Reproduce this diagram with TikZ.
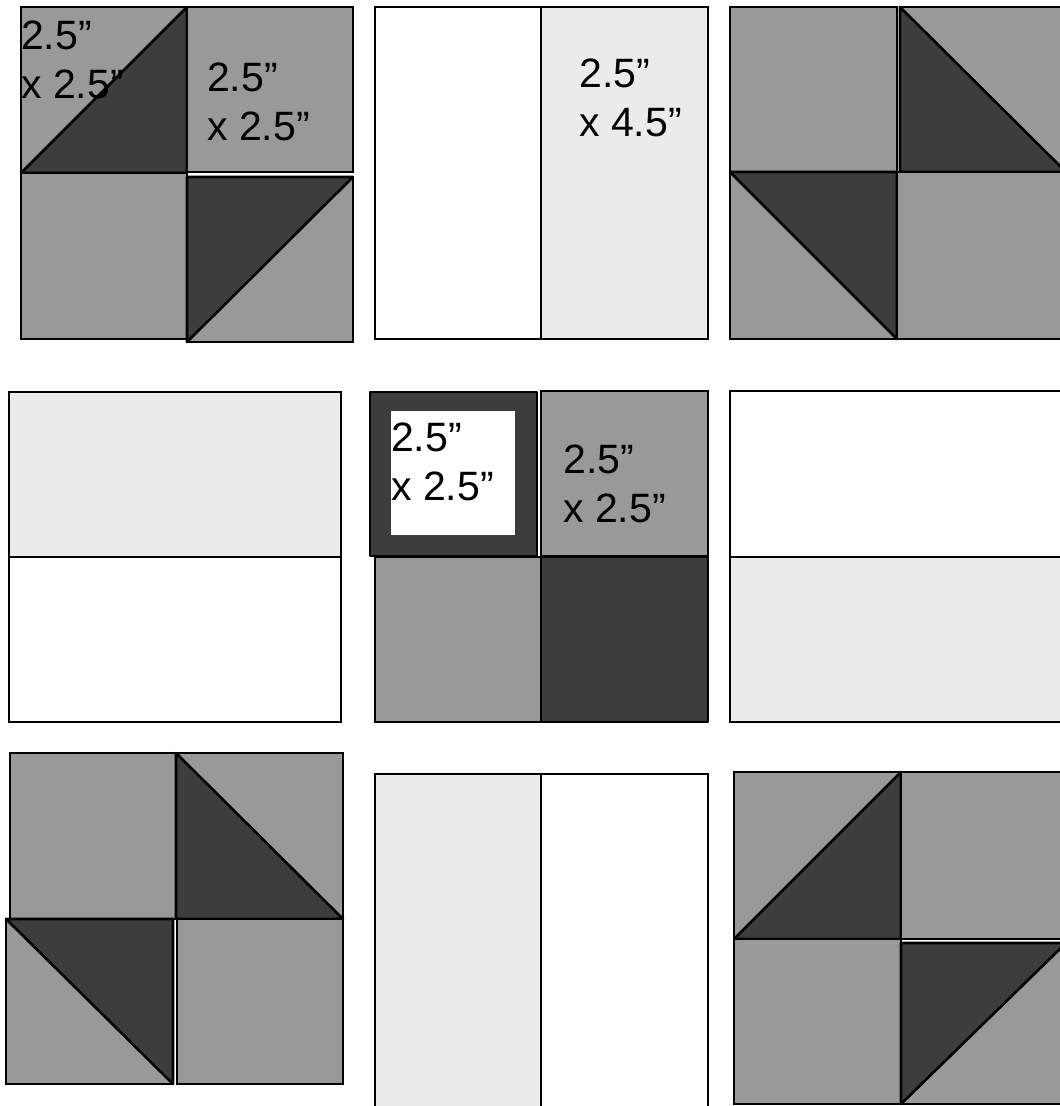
\documentclass[tikz,border=0pt]{standalone}
\usepackage{fontspec}
\setmainfont{Liberation Sans}
\usepackage{xcolor}
\usepackage{tikz}

\definecolor{patchgray}{HTML}{999999}
\definecolor{patchdark}{HTML}{3D3D3D}
\definecolor{patchlight}{HTML}{EBEBEB}

\begin{document}
\begin{tikzpicture}[
  x=1pt, y=-1pt,
  gry/.style={draw=black, line width=2.6pt, fill=patchgray},
  drk/.style={draw=black, line width=2.6pt, fill=patchdark, line join=round},
  lgt/.style={draw=black, line width=2.6pt, fill=patchlight},
  wht/.style={draw=black, line width=2.6pt, fill=white},
  size/.style={anchor=north west, inner sep=0pt, align=left, font=\fontsize{41}{49}\selectfont}
]
  \useasboundingbox (0,0) rectangle (1060,1106);
  \clip (0,0) rectangle (1060,1106);

  % top row, left block
  \filldraw[gry] (21,7) rectangle (187,173);
  \filldraw[drk] (21,173) -- (187,7) -- (187,173) -- cycle;
  \filldraw[gry] (187,7) rectangle (353,172);
  \filldraw[gry] (21,173) rectangle (187,339);
  \filldraw[gry] (187,177) rectangle (353,342);
  \filldraw[drk] (187,177) -- (353,177) -- (187,342) -- cycle;
  \node[size] (cornerA) at (21,21) {2.5”\\x 2.5”};
  \node[size] (squareA) at (207,63) {2.5”\\x 2.5”};

  % top row, middle block
  \filldraw[wht] (375,7) rectangle (541,339);
  \filldraw[lgt] (541,7) rectangle (708,339);
  \node[size] (strip) at (579,59) {2.5”\\x 4.5”};

  % top row, right block
  \filldraw[gry] (730,7) rectangle (897,172);
  \filldraw[gry] (900,7) rectangle (1066,172);
  \filldraw[drk] (900,7) -- (1066,172) -- (900,172) -- cycle;
  \filldraw[gry] (730,172) rectangle (897,339);
  \filldraw[drk] (730,172) -- (897,172) -- (897,339) -- cycle;
  \filldraw[gry] (897,172) rectangle (1066,339);

  % middle row, left block
  \filldraw[lgt] (9,392) rectangle (341,557);
  \filldraw[wht] (9,557) rectangle (341,722);

  % middle row, centre block
  \filldraw[drk] (370,392) rectangle (537,556);
  \fill[white] (391,411) rectangle (515,535);
  \filldraw[gry] (541,391) rectangle (708,556);
  \filldraw[gry] (375,557) rectangle (541,722);
  \filldraw[drk] (541,557) rectangle (708,722);
  \node[size] (centre) at (391,423) {2.5”\\x 2.5”};
  \node[size] (squareB) at (563,445) {2.5”\\x 2.5”};

  % middle row, right block
  \filldraw[wht] (730,391) rectangle (1066,557);
  \filldraw[lgt] (730,557) rectangle (1066,722);

  % bottom row, left block
  \filldraw[gry] (10,753) rectangle (176,919);
  \filldraw[gry] (176,753) rectangle (343,919);
  \filldraw[drk] (176,753) -- (343,919) -- (176,919) -- cycle;
  \filldraw[gry] (6,919) rectangle (173,1084);
  \filldraw[drk] (6,919) -- (173,919) -- (173,1084) -- cycle;
  \filldraw[gry] (177,919) rectangle (343,1084);

  % bottom row, middle block
  \filldraw[lgt] (375,774) rectangle (541,1107);
  \filldraw[wht] (541,774) rectangle (708,1107);

  % bottom row, right block
  \filldraw[gry] (734,772) rectangle (901,939);
  \filldraw[drk] (734,939) -- (901,772) -- (901,939) -- cycle;
  \filldraw[gry] (901,772) rectangle (1066,939);
  \filldraw[gry] (734,939) rectangle (901,1104);
  \filldraw[gry] (901,943) rectangle (1066,1104);
  \filldraw[drk] (901,943) -- (1066,943) -- (901,1104) -- cycle;
\end{tikzpicture}
\end{document}
